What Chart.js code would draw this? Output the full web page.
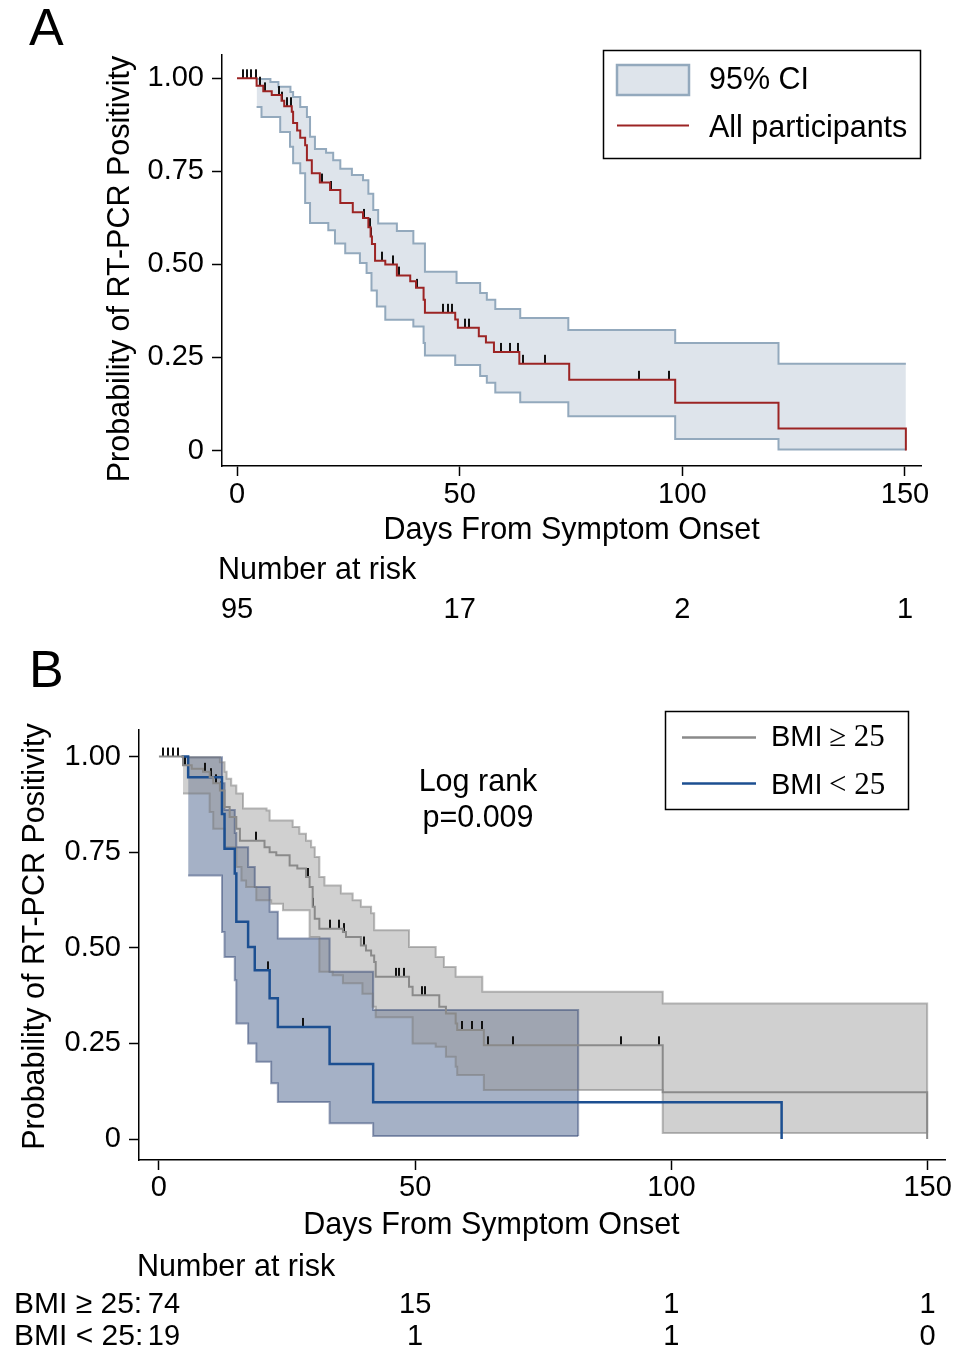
<!DOCTYPE html>
<html>
<head>
<meta charset="utf-8">
<script src="https://cdn.jsdelivr.net/npm/chart.js@4"></script>
<style>
  html, body { margin: 0; padding: 0; background: #fff; }
  #wrap { position: relative; width: 953px; height: 1353px; }
  canvas { position: absolute; left: 0; }
  #chartA { top: 0; }
  #chartB { top: 640px; }
</style>
</head>
<body>
<div id="wrap">
  <canvas id="chartA" width="953" height="640"></canvas>
  <canvas id="chartB" width="953" height="713"></canvas>
</div>
<script>
const SANS = '"Liberation Sans", Arial, sans-serif'
const SERIF = '"Liberation Serif", "Times New Roman", serif'

const xTicks = [0, 50, 100, 150]
const yTicks = [0, 0.25, 0.5, 0.75, 1]
const riskDays = [0, 50, 100, 150]

// panel A: all participants
const allDays = [0, 4.4, 5.9, 7.8, 10.0, 10.6, 12.3, 12.6, 13.5, 14.2, 15.3, 15.7, 16.8, 18.6, 20.9, 23.2, 26.0, 28.3, 29.5, 30.0, 30.3, 31.0, 33.3, 35.9, 38.9, 40.2, 41.9, 42.2, 49.0, 49.6, 54.3, 55.9, 57.7, 63.4, 74.6, 98.4, 121.6, 150.2]
const allSurv = [1, 0.98, 0.965, 0.955, 0.94, 0.925, 0.91, 0.88, 0.86, 0.84, 0.82, 0.78, 0.745, 0.72, 0.70, 0.665, 0.64, 0.625, 0.60, 0.575, 0.555, 0.51, 0.50, 0.47, 0.455, 0.437, 0.405, 0.37, 0.352, 0.33, 0.307, 0.29, 0.265, 0.233, 0.19, 0.128, 0.059, 0]
const allUpperDays = [4.4, 7.5, 9.3, 12.0, 12.6, 14.2, 15.7, 16.4, 17.5, 20.0, 21.6, 23.2, 25.8, 28.3, 29.5, 30.6, 31.7, 35.9, 39.6, 42.2, 49.3, 54.6, 56.1, 58.0, 63.6, 74.4, 98.4, 121.6, 150.2]
const allUpper = [0.998, 0.99, 0.977, 0.963, 0.95, 0.923, 0.896, 0.843, 0.81, 0.80, 0.78, 0.757, 0.74, 0.726, 0.69, 0.646, 0.61, 0.59, 0.556, 0.48, 0.45, 0.423, 0.405, 0.38, 0.356, 0.324, 0.289, 0.233, 0.233]
const allLowerDays = [4.4, 5.5, 9.7, 11.9, 12.6, 14.2, 15.3, 16.4, 20.5, 22.0, 24.3, 27.6, 29.1, 30.2, 31.4, 33.3, 39.6, 41.9, 42.2, 49.0, 54.6, 56.1, 58.0, 63.6, 74.4, 98.4, 121.6, 150.2]
const allLower = [0.923, 0.896, 0.856, 0.816, 0.772, 0.745, 0.665, 0.611, 0.592, 0.556, 0.53, 0.504, 0.477, 0.43, 0.387, 0.351, 0.333, 0.289, 0.255, 0.23, 0.20, 0.182, 0.156, 0.13, 0.092, 0.031, 0.003, 0.003]
const allCensorDays = [1.4, 2.2, 3.1, 4.3, 5.2, 6.3, 9.4, 10.2, 11.2, 12.1, 19.0, 21.1, 28.6, 29.8, 30.1, 32.5, 35.0, 36.3, 40.5, 46.3, 47.3, 48.2, 51.2, 52.0, 59.3, 61.2, 63.0, 64.2, 69.2, 90.3, 97.1]
const allCensorSurv = [1, 1, 1, 1, 0.98, 0.965, 0.955, 0.94, 0.925, 0.925, 0.72, 0.70, 0.625, 0.60, 0.575, 0.51, 0.50, 0.47, 0.437, 0.37, 0.37, 0.37, 0.33, 0.33, 0.265, 0.265, 0.265, 0.233, 0.233, 0.19, 0.19]
const riskAll = [95, 17, 2, 1]

// panel B: BMI >= 25
const highDays = [0, 4.7, 6.4, 8.6, 9.9, 10.6, 11.9, 12.8, 13.8, 15.1, 15.8, 20.6, 21.6, 22.9, 25.5, 27.0, 28.7, 29.4, 30.0, 30.4, 31.3, 35.9, 36.5, 39.4, 40.4, 41.4, 42.0, 42.3, 48.8, 49.5, 54.7, 56.0, 57.9, 58.2, 63.4, 98.3, 149.9]
const highSurv = [1, 0.977, 0.968, 0.96, 0.946, 0.93, 0.911, 0.868, 0.842, 0.811, 0.78, 0.763, 0.75, 0.742, 0.715, 0.707, 0.685, 0.659, 0.607, 0.576, 0.55, 0.541, 0.528, 0.506, 0.493, 0.48, 0.463, 0.424, 0.398, 0.376, 0.346, 0.328, 0.302, 0.285, 0.245, 0.122, 0]
const highUpperDays = [4.7, 11.9, 12.8, 13.2, 14.1, 15.1, 16.4, 21.0, 21.6, 26.1, 27.4, 28.7, 29.7, 30.4, 31.3, 32.3, 35.5, 37.8, 39.4, 41.4, 42.0, 48.8, 54.0, 55.6, 57.9, 63.1, 98.3, 149.9]
const highUpper = [0.998, 0.985, 0.96, 0.942, 0.924, 0.903, 0.864, 0.859, 0.833, 0.816, 0.798, 0.78, 0.763, 0.737, 0.685, 0.663, 0.642, 0.624, 0.607, 0.59, 0.546, 0.502, 0.476, 0.45, 0.424, 0.385, 0.354, 0.016]
const highLowerDays = [4.7, 9.9, 10.6, 12.8, 15.1, 16.1, 17.0, 19.0, 21.9, 24.2, 29.4, 31.3, 33.9, 35.9, 39.7, 41.7, 42.3, 49.5, 54.0, 56.0, 57.9, 58.2, 63.4, 98.3, 149.9]
const highLower = [0.903, 0.855, 0.811, 0.763, 0.711, 0.676, 0.659, 0.624, 0.615, 0.598, 0.528, 0.437, 0.428, 0.407, 0.38, 0.346, 0.318, 0.25, 0.241, 0.215, 0.189, 0.167, 0.128, 0.016, 0.016]
const highCensorDays = [0.8, 1.8, 2.8, 3.7, 5.1, 9.0, 10.2, 11.2, 12.1, 19.0, 29.0, 30.1, 33.3, 35.2, 36.2, 40.0, 46.2, 46.9, 47.8, 51.4, 52.0, 59.2, 61.1, 63.1, 64.2, 69.1, 90.1, 97.5]
const highCensorSurv = [1, 1, 1, 1, 0.977, 0.96, 0.946, 0.93, 0.911, 0.78, 0.685, 0.607, 0.55, 0.55, 0.541, 0.506, 0.424, 0.424, 0.424, 0.376, 0.376, 0.285, 0.285, 0.285, 0.245, 0.245, 0.245, 0.245]
const riskHigh = [74, 15, 1, 1]

// panel B: BMI < 25
const lowDays = [4.4, 5.7, 12.3, 12.8, 14.8, 15.1, 17.4, 18.7, 21.6, 23.2, 33.3, 41.8, 121.5]
const lowSurv = [1, 0.946, 0.85, 0.759, 0.694, 0.568, 0.502, 0.441, 0.368, 0.293, 0.196, 0.096, 0]
const lowUpperDays = [5.7, 12.3, 12.8, 14.8, 15.1, 17.4, 18.7, 21.6, 23.2, 33.3, 41.8, 81.8]
const lowUpper = [0.998, 0.93, 0.86, 0.80, 0.763, 0.711, 0.659, 0.594, 0.524, 0.437, 0.337, 0.008]
const lowLowerDays = [5.7, 12.3, 12.8, 14.8, 15.1, 17.4, 19.0, 21.9, 23.2, 33.3, 41.8, 81.8]
const lowLower = [0.689, 0.541, 0.476, 0.415, 0.302, 0.25, 0.202, 0.146, 0.097, 0.041, 0.008, 0.008]
const lowCensorDays = [21.3, 28.2]
const lowCensorSurv = [0.441, 0.293]
const riskLow = [19, 1, 1, 0]

const pts = (xs, ys) => xs.map((x, i) => ({ x, y: ys[i] }))

// censoring mark: ink only in the upper half so it sits on top of the curve
function makeTick() {
  const c = document.createElement('canvas')
  c.width = 2
  c.height = 20
  const g = c.getContext('2d')
  g.fillStyle = '#111'
  g.fillRect(0, 1, 2, 9)
  return c
}
const tick = makeTick()

const kmLine = (days, surv, color, width) => ({
  data: pts(days, surv), borderColor: color, borderWidth: width,
  stepped: 'before', pointRadius: 0, fill: false, order: 0
})
const ciLine = (days, vals, border, fillColor, order) => ({
  data: pts(days, vals), borderColor: border, borderWidth: 2,
  stepped: 'before', pointRadius: 0,
  backgroundColor: fillColor || 'transparent', fill: fillColor ? '+1' : false, order
})
const censor = (days, surv) => ({
  data: pts(days, surv), showLine: false, pointStyle: tick,
  pointRadius: 5, order: 0
})

function axes(cfg) {
  const tickFont = { family: SANS, size: 29 }
  const titleFont = { family: SANS, size: 30.5 }
  return {
    x: {
      type: 'linear', min: cfg.xMin, max: cfg.xMax,
      afterBuildTicks: s => { s.ticks = xTicks.map(v => ({ value: v })) },
      afterFit: s => { s.height = cfg.xHeight },
      ticks: { font: tickFont, color: '#000', padding: cfg.xPad, maxRotation: 0, autoSkip: false },
      grid: { drawOnChartArea: false, tickLength: 10, tickWidth: 1.5, tickColor: '#000' },
      border: { color: '#000', width: 1.5 },
      title: { display: true, text: cfg.xTitle, font: titleFont, color: '#000', padding: 0 }
    },
    y: {
      type: 'linear', min: cfg.yMin, max: cfg.yMax,
      afterBuildTicks: s => { s.ticks = yTicks.map(v => ({ value: v })) },
      afterFit: s => { s.width = cfg.yWidth },
      ticks: { font: tickFont, color: '#000', padding: 8, callback: v => v === 0 ? '0' : v.toFixed(2) },
      grid: { drawOnChartArea: false, tickLength: 10, tickWidth: 1.5, tickColor: '#000' },
      border: { color: '#000', width: 1.5 },
      title: { display: true, text: cfg.yTitle, font: titleFont, color: '#000', padding: 0 }
    }
  }
}

function text(ctx, str, x, y, font, align) {
  ctx.font = font
  ctx.textAlign = align || 'left'
  ctx.textBaseline = 'middle'
  ctx.fillStyle = '#000'
  ctx.fillText(str, x, y)
}

const f30 = '30.5px ' + SANS
const f29 = '29px ' + SANS

new Chart(document.getElementById('chartA'), {
  type: 'line',
  data: {
    datasets: [
      kmLine(allDays, allSurv, '#9c2424', 2),
      censor(allCensorDays, allCensorSurv),
      ciLine(allUpperDays, allUpper, '#93a9bd', '#dee4eb', 1),
      ciLine(allLowerDays, allLower, '#93a9bd', null, 1)
    ]
  },
  options: {
    responsive: false,
    animation: false,
    events: [],
    layout: { padding: { left: 102, right: 32, top: 55, bottom: 640 - 548.5 } },
    scales: axes({
      xMin: -3.37, xMax: 153.6, yMin: -0.0416, yMax: 1.0626,
      xHeight: 82.5, xPad: 2, yWidth: 120,
      xTitle: 'Days From Symptom Onset',
      yTitle: 'Probability of RT-PCR Positivity  '
    }),
    plugins: {
      legend: { display: false },
      tooltip: { enabled: false },
      filler: { drawTime: 'beforeDatasetsDraw' }
    }
  },
  plugins: [{
    id: 'panelA',
    afterDraw(chart) {
      const ctx = chart.ctx
      const x = chart.scales.x
      ctx.save()
      text(ctx, 'A', 29, 31, '52px ' + SANS)
      // legend
      ctx.fillStyle = '#fff'
      ctx.fillRect(603, 50, 318, 109)
      ctx.strokeStyle = '#000'
      ctx.lineWidth = 1.5
      ctx.strokeRect(603.5, 50.5, 317, 108)
      ctx.fillStyle = '#dee4eb'
      ctx.fillRect(617, 65, 72, 30)
      ctx.strokeStyle = '#93a9bd'
      ctx.lineWidth = 2.5
      ctx.strokeRect(617, 65, 72, 30)
      ctx.strokeStyle = '#9c2424'
      ctx.lineWidth = 2
      ctx.beginPath()
      ctx.moveTo(617, 125.5)
      ctx.lineTo(689, 125.5)
      ctx.stroke()
      text(ctx, '95% CI', 709, 81, f30)
      text(ctx, 'All participants', 709, 129, f30)
      // number at risk
      text(ctx, 'Number at risk', 218, 571, f30)
      riskDays.forEach((d, i) => text(ctx, String(riskAll[i]), x.getPixelForValue(d), 610, f29, 'center'))
      ctx.restore()
    }
  }]
})

new Chart(document.getElementById('chartB'), {
  type: 'line',
  data: {
    datasets: [
      kmLine(highDays, highSurv, '#8a8a8a', 2),
      kmLine(lowDays, lowSurv, '#1c4f91', 2.5),
      censor(highCensorDays, highCensorSurv),
      censor(lowCensorDays, lowCensorSurv),
      ciLine(highUpperDays, highUpper, 'rgba(120,120,120,0.5)', 'rgba(150,150,150,0.45)', 2),
      ciLine(highLowerDays, highLower, 'rgba(120,120,120,0.5)', null, 2),
      ciLine(lowUpperDays, lowUpper, 'rgba(50,70,115,0.5)', 'rgba(40,70,120,0.42)', 3),
      ciLine(lowLowerDays, lowLower, 'rgba(50,70,115,0.5)', null, 3)
    ]
  },
  options: {
    responsive: false,
    animation: false,
    events: [],
    layout: { padding: { left: 17, right: 5, top: 90, bottom: 713 - 603.5 } },
    scales: axes({
      xMin: -3.89, xMax: 153.5, yMin: -0.0549, yMax: 1.0693,
      xHeight: 83.5, xPad: 1, yWidth: 122,
      // trailing spaces pull the title left, as in the original layout
      xTitle: 'Days From Symptom Onset            ',
      yTitle: '  Probability of RT-PCR Positivity'
    }),
    plugins: {
      legend: { display: false },
      tooltip: { enabled: false },
      filler: { drawTime: 'beforeDatasetsDraw' }
    }
  },
  plugins: [{
    id: 'panelB',
    afterDraw(chart) {
      const ctx = chart.ctx
      const x = chart.scales.x
      const serif = '31px ' + SERIF
      ctx.save()
      text(ctx, 'B', 29, 33, '52px ' + SANS)
      // legend
      ctx.fillStyle = '#fff'
      ctx.fillRect(665, 71, 244, 99)
      ctx.strokeStyle = '#000'
      ctx.lineWidth = 1.5
      ctx.strokeRect(665.5, 71.5, 243, 98)
      ctx.lineWidth = 2.5
      ctx.strokeStyle = '#8a8a8a'
      ctx.beginPath()
      ctx.moveTo(682, 97.5)
      ctx.lineTo(756, 97.5)
      ctx.stroke()
      ctx.strokeStyle = '#1c4f91'
      ctx.beginPath()
      ctx.moveTo(682, 143.5)
      ctx.lineTo(756, 143.5)
      ctx.stroke()
      text(ctx, 'BMI', 771, 98, f29)
      text(ctx, '\u2265 25', 829, 98, serif)
      text(ctx, 'BMI', 771, 146, f29)
      text(ctx, '< 25', 829, 146, serif)
      // log rank
      text(ctx, 'Log rank', 478, 143, f30, 'center')
      text(ctx, 'p=0.009', 478, 179, f30, 'center')
      // number at risk
      text(ctx, 'Number at risk', 137, 628, f30)
      text(ctx, 'BMI \u2265 25:', 14, 665, '30px ' + SANS)
      text(ctx, 'BMI < 25:', 14, 697, '30px ' + SANS)
      riskDays.forEach((d, i) => {
        const px = x.getPixelForValue(d) + (i === 0 ? 5 : 0)
        text(ctx, String(riskHigh[i]), px, 665, f29, 'center')
        text(ctx, String(riskLow[i]), px, 697, f29, 'center')
      })
      ctx.restore()
    }
  }]
})
</script>
</body>
</html>
